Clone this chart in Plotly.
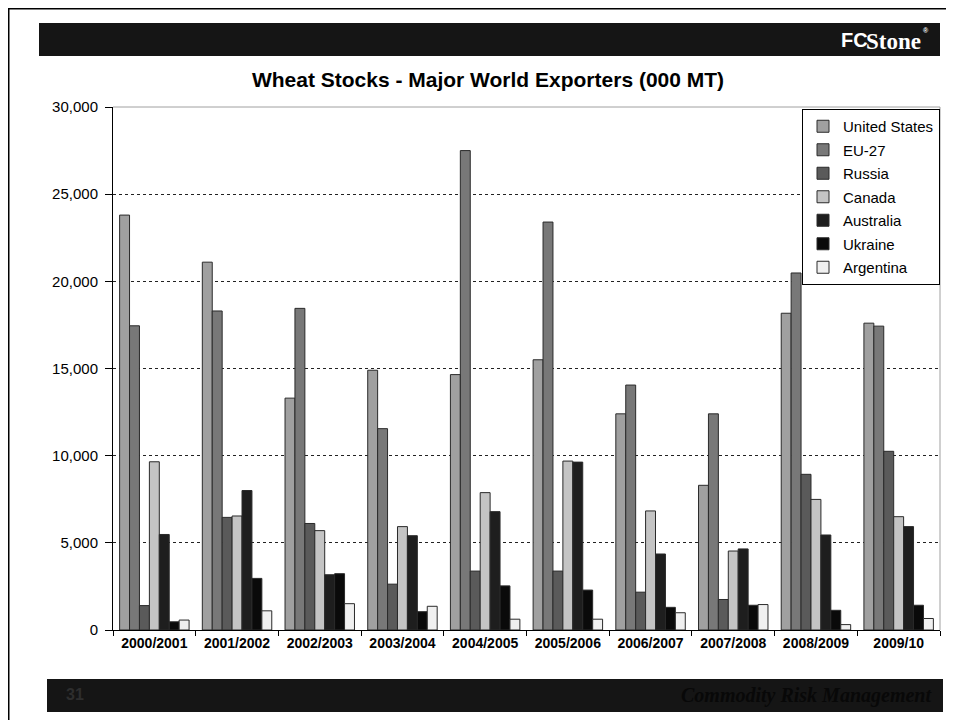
import plotly.graph_objects as go

seasons = ["2000/2001", "2001/2002", "2002/2003", "2003/2004", "2004/2005",
           "2005/2006", "2006/2007", "2007/2008", "2008/2009", "2009/10"]
united_states = [23800, 21100, 13300, 14900, 14650, 15500, 12400, 8300, 18170, 17600]
eu_27 = [17450, 18300, 18450, 11550, 27500, 23400, 14050, 12400, 20480, 17430]
russia = [1400, 6460, 6110, 2630, 3380, 3380, 2170, 1750, 8930, 10250]
canada = [9650, 6540, 5700, 5930, 7880, 9690, 6830, 4530, 7490, 6500]
australia = [5480, 8000, 3170, 5410, 6790, 9630, 4360, 4650, 5450, 5930]
ukraine = [470, 2960, 3230, 1050, 2530, 2290, 1300, 1420, 1130, 1420]
argentina = [570, 1100, 1510, 1360, 620, 620, 990, 1460, 310, 660]

series_names = ["United States", "EU-27", "Russia", "Canada", "Australia", "Ukraine", "Argentina"]
series_values = [united_states, eu_27, russia, canada, australia, ukraine, argentina]
series_colors = ["#a0a0a0", "#787878", "#5a5a5a", "#c4c4c4", "#1e1e1e", "#0a0a0a", "#f0f0f0"]
y_ticks = [0, 5000, 10000, 15000, 20000, 25000, 30000]

# page body has an 8px margin, so the figure starts at (8, 8) in the window
OFF = 8
W, H = 946, 712
L, R, T, B = 105, 14, 99, 90
PW, PH = W - L - R, H - T - B


def px(x):
    """screen x -> paper x"""
    return (x - OFF - L) / PW


def py(y):
    """screen y -> paper y"""
    return (H - B - (y - OFF)) / PH


fig = go.Figure()
for name, vals, col in zip(series_names, series_values, series_colors):
    fig.add_trace(go.Bar(
        x=seasons, y=vals, name=name, legendgroup=name,
        marker=dict(color=col, line=dict(color="#2a2a2a", width=1)),
    ))

shapes = [
    # outer frame (top and left)
    dict(type="line", xref="paper", yref="paper", x0=px(8), x1=px(970), y0=py(8.5), y1=py(8.5),
         line=dict(color="#000", width=2)),
    dict(type="line", xref="paper", yref="paper", x0=px(8.5), x1=px(8.5), y0=py(8), y1=py(740),
         line=dict(color="#000", width=2)),
    # header bar
    dict(type="rect", xref="paper", yref="paper", x0=px(39), x1=px(940), y0=py(23), y1=py(56),
         fillcolor="#151515", line=dict(width=0), layer="below"),
    # footer bar
    dict(type="rect", xref="paper", yref="paper", x0=px(47), x1=px(943), y0=py(679), y1=py(712),
         fillcolor="#151515", line=dict(width=0), layer="below"),
    # plot top / right border
    dict(type="line", xref="paper", yref="paper", x0=0, x1=1, y0=1, y1=1,
         line=dict(color="#a0a0a0", width=1)),
    dict(type="line", xref="paper", yref="paper", x0=1, x1=1, y0=0, y1=1,
         line=dict(color="#a0a0a0", width=1)),
]

annotations = [
    dict(text="<b>FC</b>", xref="paper", yref="paper", x=px(870), y=py(40),
         xanchor="right", yanchor="middle", showarrow=False,
         font=dict(family="Liberation Sans, Arial", size=20, color="#ffffff")),
    dict(text="<b>Stone</b>", xref="paper", yref="paper", x=px(864), y=py(41),
         xanchor="left", yanchor="middle", showarrow=False,
         font=dict(family="Liberation Serif, Times New Roman", size=23, color="#ffffff")),
    dict(text="<b>®</b>", xref="paper", yref="paper", x=px(921), y=py(31),
         xanchor="left", yanchor="middle", showarrow=False,
         font=dict(family="Liberation Sans, Arial", size=7, color="#ffffff")),
    dict(text="<b>31</b>", xref="paper", yref="paper", x=px(64), y=py(694),
         xanchor="left", yanchor="middle", showarrow=False,
         font=dict(family="Liberation Sans, Arial", size=16, color="#2e2e2e")),
    dict(text="<b><i>Commodity Risk Management</i></b>", xref="paper", yref="paper", x=px(934), y=py(695),
         xanchor="right", yanchor="middle", showarrow=False,
         font=dict(family="Liberation Serif, Times New Roman", size=20, color="#080808")),
]

fig.update_layout(
    width=W, height=H,
    margin=dict(l=L, r=R, t=T, b=B, pad=0),
    paper_bgcolor="#ffffff", plot_bgcolor="#ffffff",
    barmode="group", bargap=0.16, bargroupgap=0,
    title=dict(text="<b>Wheat Stocks - Major World Exporters (000 MT)</b>",
               x=(488 - OFF) / W, xanchor="center", y=1 - (80 - OFF) / H, yanchor="middle",
               font=dict(family="Liberation Sans, Arial", size=21, color="#000")),
    font=dict(family="Liberation Sans, Arial", color="#000"),
    showlegend=True,
    legend=dict(x=px(802), y=py(109), xanchor="left", yanchor="top",
                bgcolor="#ffffff", bordercolor="#000", borderwidth=1,
                font=dict(family="Liberation Sans, Arial", size=15, color="#000"),
                tracegroupgap=1, itemwidth=30),
    xaxis=dict(type="category", showline=True, linecolor="#000", linewidth=1,
               ticks="outside", tickson="boundaries", ticklen=5, tickcolor="#000",
               tickfont=dict(family="Liberation Sans, Arial", size=14, color="#000"),
               tickprefix="<b>", ticksuffix="</b>", showgrid=False),
    yaxis=dict(range=[0, 30000], tickvals=y_ticks, tickformat=",d",
               showline=True, linecolor="#000", linewidth=1,
               ticks="outside", ticklen=7, tickcolor="#000", ticklabelstandoff=4,
               tickfont=dict(family="Liberation Sans, Arial", size=15, color="#000"),
               showgrid=True, gridcolor="#222", griddash="3px,3px", gridwidth=1,
               zeroline=False),
    shapes=shapes, annotations=annotations,
)

fig.write_html("out.html")
